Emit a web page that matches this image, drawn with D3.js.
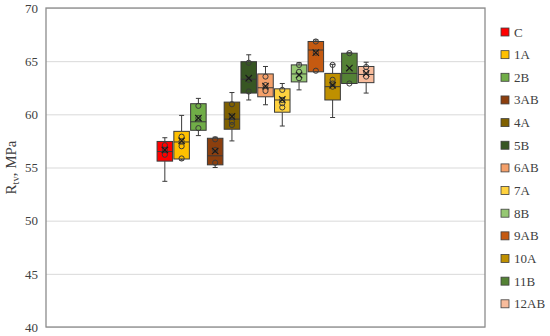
<!DOCTYPE html>
<html>
<head>
<meta charset="utf-8">
<script src="https://cdn.jsdelivr.net/npm/d3@7"></script>
<style>
	body { margin: 0; background: #fff; }
	svg { display: block; }
	text { font-family: "Liberation Serif", "Times New Roman", serif; fill: #404040; }
</style>
</head>
<body>
<div id="chart"></div>
<script>

// series (one box per specimen group)
var series = [ 'C', '1A', '2B', '3AB', '4A', '5B', '6AB', '7A', '8B', '9AB', '10A', '11B', '12AB' ];
var colors = [ '#ff0000', '#ffc000', '#70ad47', '#8c3f0e', '#7f6000', '#375623', '#f4a06a', '#ffd23f', '#96c873', '#c55a11', '#bf9000', '#548235', '#f8bc9c' ];

// box statistics, MPa
var whiskerLow  = [ 53.7, 55.7, 58.0, 55.0, 57.5, 61.35, 60.9, 58.9, 62.3, 64.0, 59.7, 62.9, 62.0 ];
var q1          = [ 55.6, 55.8, 58.5, 55.25, 58.6, 62.0, 61.65, 60.2, 63.05, 64.0, 61.35, 62.9, 62.98 ];
var median      = [ 56.5, 57.4, 59.3, 56.1, 59.55, 63.3, 62.5, 61.35, 63.8, 66.05, 62.6, 63.85, 63.75 ];
var q3          = [ 57.45, 58.4, 61.0, 57.75, 61.15, 64.95, 63.8, 62.4, 64.65, 66.85, 63.85, 65.75, 64.5 ];
var whiskerHigh = [ 57.8, 59.9, 61.5, 57.85, 62.05, 65.6, 64.5, 62.9, 64.85, 67.0, 64.7, 65.8, 64.9 ];
var means       = [ 56.65, 57.5, 59.65, 56.55, 59.8, 63.4, 62.65, 61.4, 63.7, 65.8, 62.75, 64.35, 63.85 ];

// inner points
var points = [
	[ 57.1, 56.65, 56.2 ],
	[ 57.9, 57.45, 57.0, 55.85 ],
	[ 60.8, 59.65, 58.7 ],
	[ 57.65, 56.65, 55.45 ],
	[ 60.95, 59.8, 59.3, 59.0 ],
	[ 64.85, 63.25, 62.15 ],
	[ 63.55, 62.75, 62.2 ],
	[ 62.3, 61.35, 61.05, 60.65 ],
	[ 64.65, 64.0, 63.4 ],
	[ 66.85, 65.8, 64.1 ],
	[ 64.65, 63.25, 62.9, 62.6 ],
	[ 65.75, 62.9 ],
	[ 64.45, 64.0, 63.55 ]
];

var yTicks = [ 40, 45, 50, 55, 60, 65, 70 ];

var width = 550,
	height = 336,
	padding = { top: 8, right: 65, bottom: 9, left: 46 };

var cwidth = width - padding.left - padding.right,
	cheight = height - padding.top - padding.bottom;

var svg = d3.select( '#chart' ).append( 'svg' )
	.attr( 'width', width )
	.attr( 'height', height );

var guts = svg.append( 'g' )
	.attr( 'transform', 'translate(' + padding.left + ',' + padding.top + ')' );

var y = d3.scaleLinear().domain( [ 40, 70 ] ).range( [ cheight, 0 ] );

var x0 = d3.scaleBand().domain( [ 'Rtv' ] ).range( [ 0, cwidth ] )
	.paddingInner( 0 ).paddingOuter( 0.506 );

var x1 = d3.scaleBand().domain( series ).range( [ 0, x0.bandwidth() ] )
	.paddingInner( 0.075 ).paddingOuter( 0.04 );

// grid
var yAxis = d3.axisLeft( y ).tickValues( yTicks ).tickSize( -cwidth ).tickPadding( 8 );
var yAxisG = guts.append( 'g' ).call( yAxis );
yAxisG.select( '.domain' ).remove();
yAxisG.selectAll( '.tick line' ).attr( 'stroke', '#d9d9d9' ).attr( 'stroke-width', 1 );
yAxisG.selectAll( '.tick text' )
	.style( 'font-family', '"Liberation Serif", serif' )
	.style( 'font-size', '13px' )
	.attr( 'fill', '#404040' );

// frame
guts.append( 'rect' )
	.attr( 'x', 0 ).attr( 'y', 0 )
	.attr( 'width', cwidth ).attr( 'height', cheight )
	.attr( 'fill', 'none' )
	.attr( 'stroke', '#8c8c8c' )
	.attr( 'stroke-width', 1.3 );

// boxes
var boxes = guts.append( 'g' )
	.attr( 'transform', 'translate(' + x0( 'Rtv' ) + ',0)' )
	.selectAll( 'g' )
	.data( series )
	.enter().append( 'g' )
	.attr( 'transform', function ( d ) { return 'translate(' + x1( d ) + ',0)'; } );

var bw = x1.bandwidth();
var stroke = '#3a3a3a';

boxes.each( function ( d, i ) {
	var g = d3.select( this );
	var cx = bw / 2;

	// whiskers
	g.append( 'line' )
		.attr( 'x1', cx ).attr( 'x2', cx )
		.attr( 'y1', y( whiskerHigh[i] ) ).attr( 'y2', y( q3[i] ) )
		.attr( 'stroke', stroke ).attr( 'stroke-width', 1 );
	g.append( 'line' )
		.attr( 'x1', cx ).attr( 'x2', cx )
		.attr( 'y1', y( q1[i] ) ).attr( 'y2', y( whiskerLow[i] ) )
		.attr( 'stroke', stroke ).attr( 'stroke-width', 1 );
	[ whiskerHigh[i], whiskerLow[i] ].forEach( function ( v ) {
		g.append( 'line' )
			.attr( 'x1', cx - 2.5 ).attr( 'x2', cx + 2.5 )
			.attr( 'y1', y( v ) ).attr( 'y2', y( v ) )
			.attr( 'stroke', stroke ).attr( 'stroke-width', 1 );
	} );

	// box
	g.append( 'rect' )
		.attr( 'x', 0 ).attr( 'width', bw )
		.attr( 'y', y( q3[i] ) )
		.attr( 'height', y( q1[i] ) - y( q3[i] ) )
		.attr( 'fill', colors[i] )
		.attr( 'stroke', stroke ).attr( 'stroke-width', 1 );

	// median
	g.append( 'line' )
		.attr( 'x1', 0 ).attr( 'x2', bw )
		.attr( 'y1', y( median[i] ) ).attr( 'y2', y( median[i] ) )
		.attr( 'stroke', stroke ).attr( 'stroke-width', 1 );

	// inner points
	g.selectAll( 'circle' )
		.data( points[i] )
		.enter().append( 'circle' )
		.attr( 'cx', cx )
		.attr( 'cy', function ( v ) { return y( v ); } )
		.attr( 'r', 2.6 )
		.attr( 'fill', 'none' )
		.attr( 'stroke', stroke ).attr( 'stroke-width', 1 );

	// mean marker
	var my = y( means[i] ), s = 3.2;
	g.append( 'path' )
		.attr( 'd', 'M' + ( cx - s ) + ',' + ( my - s ) + 'L' + ( cx + s ) + ',' + ( my + s ) +
			'M' + ( cx + s ) + ',' + ( my - s ) + 'L' + ( cx - s ) + ',' + ( my + s ) )
		.attr( 'stroke', '#1a1a1a' ).attr( 'stroke-width', 1.15 );
} );

// y axis title
var title = svg.append( 'text' )
	.attr( 'transform', 'translate(16,' + ( padding.top + cheight / 2 ) + ') rotate(-90)' )
	.attr( 'text-anchor', 'middle' )
	.style( 'font-size', '15px' );
title.append( 'tspan' ).text( 'R' );
title.append( 'tspan' ).attr( 'dy', 3 ).style( 'font-size', '10.5px' ).text( 'tv' );
title.append( 'tspan' ).attr( 'dy', -3 ).text( ', MPa' );

// legend
var legend = svg.append( 'g' )
	.attr( 'transform', 'translate(501,32)' )
	.selectAll( 'g' )
	.data( series )
	.enter().append( 'g' )
	.attr( 'transform', function ( d, i ) { return 'translate(0,' + ( i * 22.65 ) + ')'; } );

legend.append( 'rect' )
	.attr( 'x', 0 ).attr( 'y', -4 )
	.attr( 'width', 8 ).attr( 'height', 8 )
	.attr( 'fill', function ( d, i ) { return colors[i]; } )
	.attr( 'stroke', '#404040' ).attr( 'stroke-width', 0.8 );

legend.append( 'text' )
	.attr( 'x', 13 ).attr( 'y', 4.5 )
	.style( 'font-size', '13px' )
	.text( function ( d ) { return d; } );

</script>
</body>
</html>
